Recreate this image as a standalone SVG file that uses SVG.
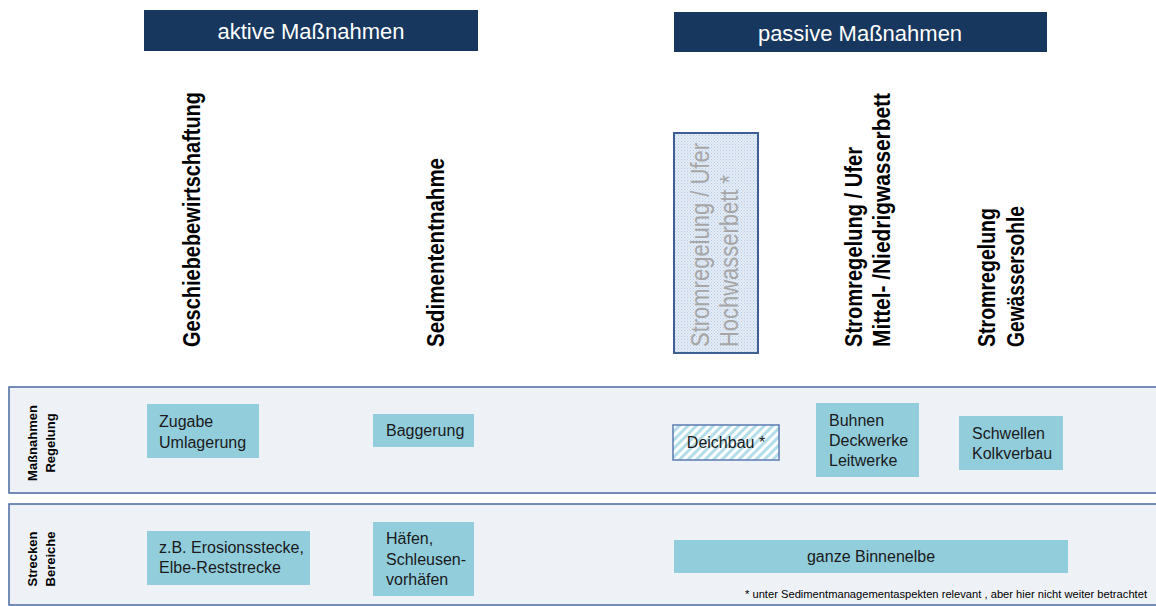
<svg xmlns="http://www.w3.org/2000/svg" width="1156" height="606" viewBox="0 0 1156 606">
  <style>
    .hdr { fill: #17375e; }
    .hdrt { font-family: "Liberation Sans", Arial, sans-serif; font-size: 22px; fill: #ffffff; text-anchor: middle; }
    .col { font-family: "Liberation Sans", Arial, sans-serif; font-size: 23px; font-weight: bold; fill: #000000; }
    .colg { font-family: "Liberation Sans", Arial, sans-serif; font-size: 25px; fill: #a6a6a6; }
    .band { fill: #eef2f7; stroke: #4a6aa0; stroke-width: 1.5; }
    .bandl { font-family: "Liberation Sans", Arial, sans-serif; font-size: 13px; font-weight: bold; fill: #000000; text-anchor: middle; }
    .box { fill: #92cddc; }
    .bt { font-family: "Liberation Sans", Arial, sans-serif; font-size: 16px; fill: #1a1a1a; }
    .btc { font-family: "Liberation Sans", Arial, sans-serif; font-size: 16px; fill: #1a1a1a; text-anchor: middle; }
    .note { font-family: "Liberation Sans", Arial, sans-serif; font-size: 11px; fill: #000000; }
  </style>
  <defs>
    <pattern id="dots" width="3" height="3" patternUnits="userSpaceOnUse">
      <rect width="3" height="3" fill="#e3ebf6"/>
      <rect width="1" height="1" fill="#b8cbe4"/>
      <rect x="1.5" y="1.5" width="1" height="1" fill="#c9d8ec"/>
    </pattern>
    <pattern id="stripes" width="6" height="6" patternUnits="userSpaceOnUse" patternTransform="rotate(45)">
      <rect width="6" height="6" fill="#ffffff"/>
      <rect width="3" height="6" fill="#b3dde9"/>
    </pattern>
  </defs>

  <rect width="1156" height="606" fill="#ffffff"/>

  <!-- bands -->
  <g id="band-massnahmen">
    <rect class="band" x="9" y="387" width="1160" height="106"/>
    <text class="bandl" transform="translate(37,443) rotate(-90)">Maßnahmen</text>
    <text class="bandl" transform="translate(55,443) rotate(-90)">Regelung</text>
  </g>
  <g id="band-strecken">
    <rect class="band" x="9" y="504" width="1160" height="101"/>
    <text class="bandl" transform="translate(37,559) rotate(-90)">Strecken</text>
    <text class="bandl" transform="translate(55,559) rotate(-90)">Bereiche</text>
  </g>

  <!-- headers -->
  <g id="hdr-aktiv">
    <rect class="hdr" x="144" y="10" width="334" height="41"/>
    <text class="hdrt" x="311" y="39">aktive Maßnahmen</text>
  </g>
  <g id="hdr-passiv">
    <rect class="hdr" x="674" y="12" width="373" height="40"/>
    <text class="hdrt" x="860" y="41">passive Maßnahmen</text>
  </g>

  <!-- column titles -->
  <g id="col-geschiebe">
    <text class="col" transform="translate(200,347) rotate(-90)" textLength="255" lengthAdjust="spacingAndGlyphs">Geschiebebewirtschaftung</text>
  </g>
  <g id="col-sediment">
    <text class="col" transform="translate(444,347) rotate(-90)" textLength="189" lengthAdjust="spacingAndGlyphs">Sedimententnahme</text>
  </g>
  <g id="col-hochwasser">
    <rect x="674" y="133" width="84" height="220" fill="url(#dots)" stroke="#3d5f95" stroke-width="2"/>
    <text class="colg" transform="translate(709,347) rotate(-90)" textLength="204" lengthAdjust="spacingAndGlyphs">Stromregelung / Ufer</text>
    <text class="colg" transform="translate(738,347) rotate(-90)" textLength="172" lengthAdjust="spacingAndGlyphs">Hochwasserbett *</text>
  </g>
  <g id="col-mittel">
    <text class="col" transform="translate(862,347) rotate(-90)" textLength="200" lengthAdjust="spacingAndGlyphs">Stromregelung / Ufer</text>
    <text class="col" transform="translate(890,347) rotate(-90)" textLength="254" lengthAdjust="spacingAndGlyphs">Mittel- /Niedrigwasserbett</text>
  </g>
  <g id="col-sohle">
    <text class="col" transform="translate(995,347) rotate(-90)" textLength="139" lengthAdjust="spacingAndGlyphs">Stromregelung</text>
    <text class="col" transform="translate(1024,347) rotate(-90)" textLength="141" lengthAdjust="spacingAndGlyphs">Gewässersohle</text>
  </g>

  <!-- boxes row 1 -->
  <g id="box-zugabe">
    <rect class="box" x="147" y="404" width="112" height="54"/>
    <text class="bt" x="159" y="427">Zugabe</text>
    <text class="bt" x="159" y="448">Umlagerung</text>
  </g>
  <g id="box-baggerung">
    <rect class="box" x="373" y="414" width="101" height="33"/>
    <text class="bt" x="386" y="436">Baggerung</text>
  </g>
  <g id="box-deichbau">
    <rect x="673" y="425" width="106" height="35" fill="url(#stripes)" stroke="#5a7bb0" stroke-width="1.5"/>
    <text class="btc" x="726" y="448">Deichbau *</text>
  </g>
  <g id="box-buhnen">
    <rect class="box" x="816" y="403" width="103" height="74"/>
    <text class="bt" x="829" y="426">Buhnen</text>
    <text class="bt" x="829" y="446">Deckwerke</text>
    <text class="bt" x="829" y="466">Leitwerke</text>
  </g>
  <g id="box-schwellen">
    <rect class="box" x="959" y="416" width="104" height="54"/>
    <text class="bt" x="972" y="439">Schwellen</text>
    <text class="bt" x="972" y="459">Kolkverbau</text>
  </g>

  <!-- boxes row 2 -->
  <g id="box-erosion">
    <rect class="box" x="147" y="531" width="163" height="54"/>
    <text class="bt" x="159" y="553">z.B. Erosionsstecke,</text>
    <text class="bt" x="159" y="573">Elbe-Reststrecke</text>
  </g>
  <g id="box-haefen">
    <rect class="box" x="373" y="522" width="101" height="74"/>
    <text class="bt" x="386" y="544">Häfen,</text>
    <text class="bt" x="386" y="565">Schleusen-</text>
    <text class="bt" x="386" y="585">vorhäfen</text>
  </g>
  <g id="box-binnenelbe">
    <rect class="box" x="674" y="540" width="394" height="33"/>
    <text class="btc" x="871" y="562">ganze Binnenelbe</text>
  </g>

  <g id="connectors"/>

  <text class="note" x="745" y="598" textLength="402" lengthAdjust="spacingAndGlyphs">* unter Sedimentmanagementaspekten relevant , aber hier nicht weiter betrachtet</text>
</svg>
